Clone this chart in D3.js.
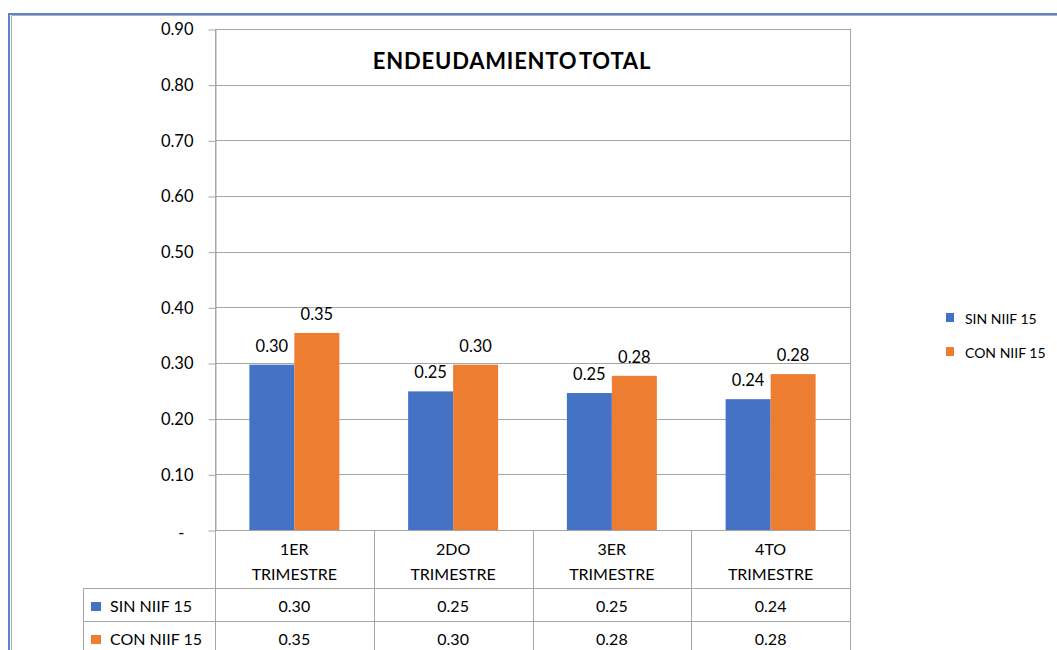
<!DOCTYPE html>
<html>
<head>
<meta charset="utf-8">
<script src="https://cdn.jsdelivr.net/npm/d3@7"></script>
<style>
  body { margin: 0; background: #fff; }
  svg { display: block; font-family: Lato, "Open Sans", sans-serif; }
</style>
</head>
<body>
<div id="chart"></div>
<script>
var categories = [["1ER", "TRIMESTRE"], ["2DO", "TRIMESTRE"], ["3ER", "TRIMESTRE"], ["4TO", "TRIMESTRE"]];
var seriesNames = ["SIN NIIF 15", "CON NIIF 15"];
var sinValues = [0.297, 0.249, 0.246, 0.235];
var conValues = [0.354, 0.297, 0.277, 0.280];
var sinLabels = ["0.30", "0.25", "0.25", "0.24"];
var conLabels = ["0.35", "0.30", "0.28", "0.28"];
var yTicks = [0, 0.1, 0.2, 0.3, 0.4, 0.5, 0.6, 0.7, 0.8, 0.9];
var colors = ["#4472C4", "#ED7D31"];

var W = 1057, H = 650;
var plotLeft = 215, plotRight = 850, plotTop = 29, plotBottom = 530;
var gridColor = "#a6a6a6";

var svg = d3.select("#chart").append("svg")
  .attr("width", W)
  .attr("height", H);

// chart frame (double line on the left / top)
svg.append("rect")
  .attr("x", 9).attr("y", 14)
  .attr("width", W + 20).attr("height", H + 20)
  .attr("fill", "none")
  .attr("stroke", "#5b84c8")
  .attr("stroke-width", 2);
svg.append("path")
  .attr("d", "M11.5," + (H + 10) + "V15.5H" + (W + 10))
  .attr("fill", "none")
  .attr("stroke", "#b0b0b0")
  .attr("stroke-width", 1);

var keys = categories.map(function (d) { return d.join(" "); });

var x0 = d3.scaleBand().domain(keys).range([plotLeft, plotRight]).padding(0);
var x1 = d3.scaleBand().domain(seriesNames).range([0, x0.bandwidth()])
  .paddingInner(0).paddingOuter(0.764);
var y = d3.scaleLinear().domain([0, 0.9]).range([plotBottom, plotTop]);

// gridlines
svg.append("g")
  .selectAll("line")
  .data(yTicks)
  .enter()
  .append("line")
  .attr("x1", plotLeft).attr("x2", plotRight)
  .attr("y1", function (d) { return Math.round(y(d)) + 0.5; })
  .attr("y2", function (d) { return Math.round(y(d)) + 0.5; })
  .attr("stroke", gridColor);

// right border of the plot
svg.append("line")
  .attr("x1", plotRight + 0.5).attr("x2", plotRight + 0.5)
  .attr("y1", Math.round(y(0.9))).attr("y2", H)
  .attr("stroke", gridColor);

// y-axis
var yAxis = svg.append("g")
  .attr("transform", "translate(" + (plotLeft + 0.5) + ",0.5)")
  .call(d3.axisLeft(y)
    .tickValues(yTicks)
    .tickSizeInner(7)
    .tickSizeOuter(0)
    .tickPadding(15)
    .tickFormat(function (d) { return d === 0 ? "-" : d.toFixed(2); }));
yAxis.select(".domain").attr("stroke", gridColor);
yAxis.selectAll(".tick line").attr("stroke", gridColor);
yAxis.selectAll(".tick text")
  .attr("font-size", "16.5px")
  .attr("font-family", "Lato, sans-serif")
  .attr("fill", "#000");
yAxis.select(".tick text").attr("dx", "-9px").attr("dy", "0.5em");

// axis vertical line reaches down through the table
svg.append("line")
  .attr("x1", plotLeft + 0.5).attr("x2", plotLeft + 0.5)
  .attr("y1", Math.round(y(0.9))).attr("y2", H)
  .attr("stroke", gridColor);

// bars
var seriesData = [sinValues, conValues];
var seriesLabels = [sinLabels, conLabels];
seriesNames.forEach(function (name, si) {
  var g = svg.append("g");
  g.selectAll("rect")
    .data(seriesData[si])
    .enter()
    .append("rect")
    .attr("x", function (d, i) { return x0(keys[i]) + x1(name); })
    .attr("y", function (d) { return y(d); })
    .attr("width", x1.bandwidth())
    .attr("height", function (d) { return y(0) - y(d); })
    .attr("fill", colors[si]);
  g.selectAll("text")
    .data(seriesData[si])
    .enter()
    .append("text")
    .attr("x", function (d, i) { return x0(keys[i]) + x1(name) + x1.bandwidth() / 2; })
    .attr("y", function (d) { return y(d) - 13; })
    .attr("text-anchor", "middle")
    .attr("font-size", "16.5px")
    .attr("fill", "#000")
    .text(function (d, i) { return seriesLabels[si][i]; });
});

// title
svg.append("text")
  .attr("x", 512)
  .attr("y", 69)
  .attr("text-anchor", "middle")
  .attr("font-size", "22px")
  .attr("font-weight", "bold")
  .attr("letter-spacing", "0.8px")
  .attr("word-spacing", "-4px")
  .attr("fill", "#000")
  .text("ENDEUDAMIENTO TOTAL");

// data table
var tableLeft = 83;
var rowY = [588, 621];
var table = svg.append("g");

table.selectAll(".hline")
  .data(rowY)
  .enter()
  .append("line")
  .attr("x1", tableLeft).attr("x2", plotRight + 0.5)
  .attr("y1", function (d) { return d + 0.5; })
  .attr("y2", function (d) { return d + 0.5; })
  .attr("stroke", gridColor);

table.append("line")
  .attr("x1", tableLeft + 0.5).attr("x2", tableLeft + 0.5)
  .attr("y1", rowY[0]).attr("y2", H)
  .attr("stroke", gridColor);

table.selectAll(".vline")
  .data(keys.slice(1))
  .enter()
  .append("line")
  .attr("x1", function (d) { return Math.round(x0(d)) + 0.5; })
  .attr("x2", function (d) { return Math.round(x0(d)) + 0.5; })
  .attr("y1", plotBottom).attr("y2", H)
  .attr("stroke", gridColor);

// header: category names
var header = table.selectAll(".hdr")
  .data(categories)
  .enter()
  .append("text")
  .attr("text-anchor", "middle")
  .attr("font-size", "16px")
  .attr("fill", "#000");
header.append("tspan")
  .attr("x", function (d, i) { return x0(keys[i]) + x0.bandwidth() / 2; })
  .attr("y", 555)
  .text(function (d) { return d[0]; });
header.append("tspan")
  .attr("x", function (d, i) { return x0(keys[i]) + x0.bandwidth() / 2; })
  .attr("y", 580)
  .text(function (d) { return d[1]; });

// rows
seriesNames.forEach(function (name, si) {
  var base = rowY[si];
  table.append("rect")
    .attr("x", 91).attr("y", base + 14)
    .attr("width", 10).attr("height", 9)
    .attr("fill", colors[si]);
  table.append("text")
    .attr("x", 110).attr("y", base + 24)
    .attr("font-size", "16px")
    .attr("fill", "#000")
    .text(name);
  table.selectAll(".v" + si)
    .data(seriesLabels[si])
    .enter()
    .append("text")
    .attr("x", function (d, i) { return x0(keys[i]) + x0.bandwidth() / 2; })
    .attr("y", base + 24)
    .attr("text-anchor", "middle")
    .attr("font-size", "16px")
    .attr("fill", "#000")
    .text(function (d) { return d; });
});

// legend
var legend = svg.append("g").attr("transform", "translate(946,313)");
seriesNames.forEach(function (name, si) {
  legend.append("rect")
    .attr("x", 0).attr("y", si * 34)
    .attr("width", 8).attr("height", 9)
    .attr("fill", colors[si]);
  legend.append("text")
    .attr("x", 19).attr("y", si * 34 + 11)
    .attr("font-size", "14px")
    .attr("fill", "#000")
    .text(name);
});
</script>
</body>
</html>
